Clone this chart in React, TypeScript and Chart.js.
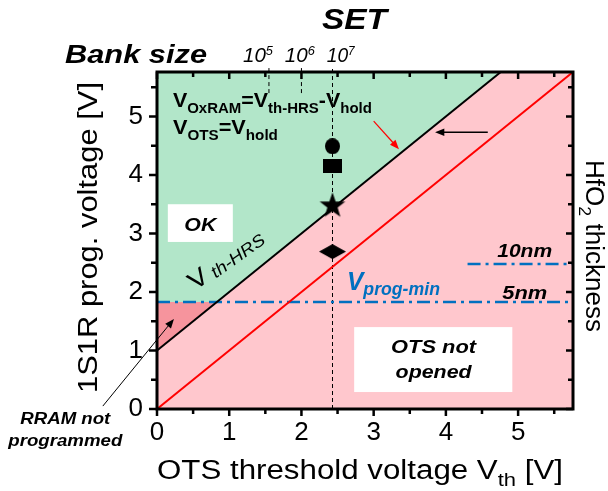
import React, { useEffect, useRef } from "react";
import { Chart, registerables } from "chart.js";

Chart.register(...registerables);

// ---------- data ----------
const AXIS_MIN = 0;
const AXIS_MAX = 5.76;
const tickMarks = [0, 0.5, 1, 1.5, 2, 2.5, 3, 3.5, 4, 4.5, 5, 5.5];

// red line: V_prog = V_th (OTS not opened boundary)
const otsLineX = [0, 5.76];
const otsLineY = [0, 5.76];
// black line: V_th-HRS
const vthHrsX = [0, 4.76];
const vthHrsY = [1.0, 5.76];
// V_prog-min lines (HfO2 thickness)
const vProg5nmX = [0, 5.76];
const vProg5nmY = [1.83, 1.83];
const vProg10nmX = [4.3, 5.76];
const vProg10nmY = [2.48, 2.48];
// bank size markers on top axis
const bankSizeExp = ["5", "6", "7"];
const bankSizeX = [1.55, 2.0, 2.43];
const bankSizeLineBottom = [5.4, 5.4, 0];
const bankSizeLineTop = 5.85;
const bankSizeLabelX = [1.19, 1.77, 2.35];
// SET points
const markerX = 2.43;
const markerShapes = ["circle", "square", "star", "diamond"];
const markerY = [4.49, 4.16, 3.49, 2.69];
// regions
const greenX = [0, 0.83, 4.76, 0];
const greenY = [1.83, 1.83, 5.76, 5.76];
const darkPinkX = [0, 0.83, 0];
const darkPinkY = [1.0, 1.83, 1.83];

const FAM = '"Liberation Sans", Arial, sans-serif';
const GREEN = "rgb(178,230,201)";
const PINK = "rgb(255,199,205)";
const DARK_PINK = "rgb(246,148,157)";
const BLUE = "rgb(0,112,192)";

type Seg = { t: string; size: number; bold?: boolean; italic?: boolean; dy?: number };

function fontOf(s: Seg) {
  return `${s.italic ? "italic " : ""}${s.bold ? "bold " : ""}${s.size}px ${FAM}`;
}
function richWidth(ctx: CanvasRenderingContext2D, segs: Seg[]) {
  let w = 0;
  for (const s of segs) {
    ctx.font = fontOf(s);
    w += ctx.measureText(s.t).width;
  }
  return w;
}
function drawRich(
  ctx: CanvasRenderingContext2D,
  segs: Seg[],
  x: number,
  y: number,
  opt: { width?: number; align?: "left" | "center"; rot?: number; color?: string } = {}
) {
  const w = richWidth(ctx, segs);
  const sx = opt.width ? opt.width / w : 1;
  ctx.save();
  ctx.translate(x, y);
  if (opt.rot) ctx.rotate(opt.rot);
  ctx.scale(sx, 1);
  let cx = opt.align === "center" ? -w / 2 : 0;
  ctx.fillStyle = opt.color ?? "#000";
  ctx.textBaseline = "alphabetic";
  ctx.textAlign = "left";
  for (const s of segs) {
    ctx.font = fontOf(s);
    ctx.fillText(s.t, cx, s.dy ?? 0);
    cx += ctx.measureText(s.t).width;
  }
  ctx.restore();
}
function arrow(
  ctx: CanvasRenderingContext2D,
  x1: number, y1: number, x2: number, y2: number,
  color: string, lw: number, head: number
) {
  const a = Math.atan2(y2 - y1, x2 - x1);
  ctx.save();
  ctx.strokeStyle = color;
  ctx.fillStyle = color;
  ctx.lineWidth = lw;
  ctx.beginPath();
  ctx.moveTo(x1, y1);
  ctx.lineTo(x2 - head * 0.7 * Math.cos(a), y2 - head * 0.7 * Math.sin(a));
  ctx.stroke();
  ctx.beginPath();
  ctx.moveTo(x2, y2);
  ctx.lineTo(x2 - head * Math.cos(a - 0.38), y2 - head * Math.sin(a - 0.38));
  ctx.lineTo(x2 - head * Math.cos(a + 0.38), y2 - head * Math.sin(a + 0.38));
  ctx.closePath();
  ctx.fill();
  ctx.restore();
}

function makeMarker(shape: string): HTMLCanvasElement {
  const c = document.createElement("canvas");
  let w = 16, h = 16;
  if (shape === "circle") { w = 15; h = 16; }
  if (shape === "square") { w = 19; h = 14; }
  if (shape === "star") { w = 28; h = 27; }
  if (shape === "diamond") { w = 27; h = 15; }
  c.width = w;
  c.height = h;
  const g = c.getContext("2d")!;
  g.fillStyle = "#000";
  g.beginPath();
  if (shape === "circle") {
    g.ellipse(w / 2, h / 2, w / 2, h / 2, 0, 0, Math.PI * 2);
  } else if (shape === "square") {
    g.rect(0, 0, w, h);
  } else if (shape === "diamond") {
    g.moveTo(w / 2, 0);
    g.lineTo(w, h / 2);
    g.lineTo(w / 2, h);
    g.lineTo(0, h / 2);
    g.closePath();
  } else {
    const cx = w / 2, cy = 14.5, R = 13.5, r = 5.4;
    for (let i = 0; i < 10; i++) {
      const ang = -Math.PI / 2 + (i * Math.PI) / 5;
      const rad = i % 2 === 0 ? R : r;
      const px = cx + rad * Math.cos(ang);
      const py = cy + rad * Math.sin(ang);
      if (i === 0) g.moveTo(px, py);
      else g.lineTo(px, py);
    }
    g.closePath();
  }
  g.fill();
  return c;
}

const pts = (xs: number[], ys: number[]) => xs.map((x, i) => ({ x, y: ys[i] }));

export default function App() {
  const ref = useRef<HTMLCanvasElement>(null);

  useEffect(() => {
    const canvas = ref.current!;
    const markerStyles = markerShapes.map(makeMarker);

    const overlay = {
      id: "overlay",
      beforeDatasetsDraw(chart: any) {
        const ctx: CanvasRenderingContext2D = chart.ctx;
        const { left, right, top, bottom } = chart.chartArea;
        const X = (v: number) => chart.scales.x.getPixelForValue(v);
        const Y = (v: number) => chart.scales.y.getPixelForValue(v);
        ctx.save();
        ctx.fillStyle = PINK;
        ctx.fillRect(left, top, right - left, bottom - top);
        const poly = (xs: number[], ys: number[], color: string) => {
          ctx.beginPath();
          xs.forEach((x, i) => (i === 0 ? ctx.moveTo(X(x), Y(ys[i])) : ctx.lineTo(X(x), Y(ys[i]))));
          ctx.closePath();
          ctx.fillStyle = color;
          ctx.fill();
        };
        poly(greenX, greenY, GREEN);
        poly(darkPinkX, darkPinkY, DARK_PINK);
        ctx.restore();
      },
      afterDatasetsDraw(chart: any) {
        const ctx: CanvasRenderingContext2D = chart.ctx;
        const X = (v: number) => chart.scales.x.getPixelForValue(v);
        const Y = (v: number) => chart.scales.y.getPixelForValue(v);

        // formula text
        drawRich(ctx, [
          { t: "V", size: 20, bold: true },
          { t: "OxRAM", size: 14, bold: true, dy: 6 },
          { t: "=V", size: 20, bold: true },
          { t: "th-HRS", size: 14, bold: true, dy: 6 },
          { t: "-V", size: 20, bold: true },
          { t: "hold", size: 14, bold: true, dy: 6 },
        ], X(0.22), Y(5.17), { width: 199 });
        drawRich(ctx, [
          { t: "V", size: 20, bold: true },
          { t: "OTS", size: 14, bold: true, dy: 6 },
          { t: "=V", size: 20, bold: true },
          { t: "hold", size: 14, bold: true, dy: 6 },
        ], X(0.22), Y(4.7), { width: 105 });

        // OK box
        ctx.fillStyle = "#fff";
        ctx.fillRect(X(0.15), Y(3.5), X(1.05) - X(0.15), Y(2.855) - Y(3.5));
        drawRich(ctx, [{ t: "OK", size: 19, bold: true, italic: true }], X(0.6), Y(3.05), { width: 32, align: "center" });

        // OTS not opened box
        ctx.fillStyle = "#fff";
        ctx.fillRect(X(2.73), Y(1.4), X(4.92) - X(2.73), Y(0.29) - Y(1.4));
        drawRich(ctx, [{ t: "OTS not", size: 19, bold: true, italic: true }], X(3.83), Y(0.96), { width: 85, align: "center" });
        drawRich(ctx, [{ t: "opened", size: 19, bold: true, italic: true }], X(3.83), Y(0.53), { width: 76, align: "center" });

        // V th-HRS along the line
        drawRich(ctx, [
          { t: "V", size: 25 },
          { t: " th-HRS", size: 17, italic: true, dy: 2 },
        ], X(0.53), Y(2.02), { rot: -0.62, width: 86 });

        // V prog-min
        drawRich(ctx, [
          { t: "V", size: 25, bold: true, italic: true },
          { t: "prog-min", size: 18, bold: true, italic: true, dy: 5 },
        ], X(2.63), Y(2.04), { width: 93, color: BLUE });

        // thickness labels
        drawRich(ctx, [{ t: "10nm", size: 18, bold: true, italic: true }], X(4.71), Y(2.6), { width: 55 });
        drawRich(ctx, [{ t: "5nm", size: 18, bold: true, italic: true }], X(4.78), Y(1.88), { width: 45 });

        // arrows
        arrow(ctx, X(3.0), Y(4.92), X(3.35), Y(4.44), "#ff0000", 1.2, 10);
        arrow(ctx, X(4.58), Y(4.73), X(3.85), Y(4.73), "#000", 1.3, 10);
        arrow(ctx, X(-0.75), Y(0.05), X(0.235), Y(1.54), "#000", 1, 10);

        // RRAM not programmed
        drawRich(ctx, [{ t: "RRAM not", size: 16, bold: true, italic: true }], X(-1.27), Y(-0.256), { width: 90, align: "center" });
        drawRich(ctx, [{ t: "programmed", size: 16, bold: true, italic: true }], X(-1.27), Y(-0.63), { width: 114, align: "center" });

        // bank size labels
        bankSizeExp.forEach((e, i) => {
          drawRich(ctx, [
            { t: "10", size: 21, italic: true },
            { t: e, size: 13, italic: true, dy: -7 },
          ], X(bankSizeLabelX[i]), 62, { width: i === 2 ? 28 : 30 });
        });
      },
      afterDraw(chart: any) {
        const ctx: CanvasRenderingContext2D = chart.ctx;
        const { left, right, top, bottom } = chart.chartArea;
        const X = (v: number) => chart.scales.x.getPixelForValue(v);
        const Y = (v: number) => chart.scales.y.getPixelForValue(v);
        ctx.save();
        ctx.strokeStyle = "#000";
        ctx.lineWidth = 2.5;
        ctx.beginPath();
        for (const v of tickMarks) {
          const len = Number.isInteger(v) ? 7 : 5;
          const x = X(v);
          const y = Y(v);
          ctx.moveTo(x, bottom); ctx.lineTo(x, bottom + len);
          ctx.moveTo(x, top); ctx.lineTo(x, top + len);
          ctx.moveTo(left, y); ctx.lineTo(left - len - 1, y);
          ctx.moveTo(right, y); ctx.lineTo(right - len, y);
        }
        ctx.stroke();
        ctx.lineWidth = 3;
        ctx.strokeRect(left, top, right - left, bottom - top);
        ctx.restore();

        // titles
        drawRich(ctx, [
          { t: "OTS threshold voltage V", size: 27 },
          { t: "th", size: 19, dy: 7 },
          { t: " [V]", size: 27 },
        ], 157, 479, { width: 406 });
        drawRich(ctx, [{ t: "1S1R prog. voltage [V]", size: 27 }], 97, 393, { rot: -Math.PI / 2, width: 311 });
        drawRich(ctx, [
          { t: "HfO", size: 25 },
          { t: "2", size: 17, dy: 7 },
          { t: " thickness", size: 25 },
        ], 586, 160, { rot: Math.PI / 2, width: 172 });
        drawRich(ctx, [{ t: "SET", size: 30, bold: true, italic: true }], 322, 29, { width: 65 });
        drawRich(ctx, [{ t: "Bank size", size: 26, bold: true, italic: true }], 65, 63, { width: 142 });
      },
    };

    const lineDs = (data: any, color: string, width: number, extra: any = {}) => ({
      type: "scatter" as const,
      data,
      showLine: true,
      borderColor: color,
      borderWidth: width,
      pointRadius: 0,
      pointHoverRadius: 0,
      ...extra,
    });

    const chart = new Chart(canvas, {
      type: "scatter",
      data: {
        datasets: [
          {
            data: markerY.map((y) => ({ x: markerX, y })),
            pointStyle: markerStyles as any,
            pointRadius: 8,
            backgroundColor: "#000",
            borderColor: "#000",
          } as any,
          lineDs(pts(vthHrsX, vthHrsY), "#000", 2),
          lineDs(pts(otsLineX, otsLineY), "#ff0000", 2),
          lineDs(pts(vProg5nmX, vProg5nmY), BLUE, 2.5, { borderDash: [13, 5, 3, 5] }),
          lineDs(pts(vProg10nmX, vProg10nmY), BLUE, 2.5, { borderDash: [13, 5, 3, 5] }),
          ...bankSizeX.map((x, i) =>
            lineDs(
              [{ x, y: bankSizeLineBottom[i] }, { x, y: bankSizeLineTop }],
              "#000",
              1,
              { borderDash: [4, 3], clip: false }
            )
          ),
        ] as any,
      },
      options: {
        animation: false,
        responsive: false,
        devicePixelRatio: 1,
        events: [],
        layout: { padding: { top: 72, right: 35, left: 0, bottom: 0 } },
        plugins: { legend: { display: false }, tooltip: { enabled: false } },
        scales: {
          x: {
            type: "linear",
            min: AXIS_MIN,
            max: AXIS_MAX,
            afterFit: (s: any) => { s.height = 82; },
            grid: { display: false, drawTicks: false },
            border: { display: false },
            ticks: {
              stepSize: 1,
              includeBounds: false,
              padding: 8,
              maxRotation: 0,
              color: "#000",
              font: { family: FAM, size: 26 },
              callback: (v: any) => (Number.isInteger(v) ? String(v) : ""),
            },
          },
          y: {
            type: "linear",
            min: AXIS_MIN,
            max: AXIS_MAX,
            afterFit: (s: any) => { s.width = 157; },
            grid: { display: false, drawTicks: false },
            border: { display: false },
            ticks: {
              stepSize: 1,
              includeBounds: false,
              padding: 14,
              color: "#000",
              font: { family: FAM, size: 26 },
              callback: (v: any) => (Number.isInteger(v) ? String(v) : ""),
            },
          },
        },
      } as any,
      plugins: [overlay],
    });
    return () => chart.destroy();
  }, []);

  return (
    <div style={{ position: "absolute", left: 0, top: 0, width: 608, height: 491 }}>
      <canvas ref={ref} width={608} height={491} />
    </div>
  );
}
